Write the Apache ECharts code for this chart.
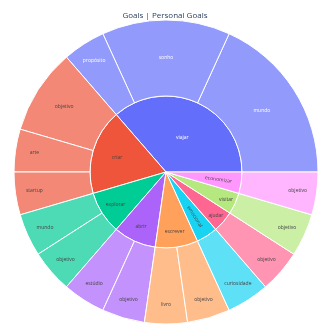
<!DOCTYPE html>
<html><head><meta charset="utf-8">
<script src="https://cdn.jsdelivr.net/npm/echarts@6/dist/echarts.min.js"></script>
<style>html,body{margin:0;padding:0;background:#fff}#c{width:330px;height:330px}</style>
</head><body><div id="c"></div>
<script>
const titleText = 'Goals | Personal Goals';
const parents = ['viajar','criar','explorar','abrir','escrever','emocional','ajudar','visitar','economizar'];
const parentColors = ['#636efa','#EF553B','#00cc96','#ab63fa','#FFA15A','#19d3f3','#FF6692','#B6E880','#FF97FF'];
const childNames = [
  ['mundo','sonho','propósito'],
  ['objetivo','arte','startup'],
  ['mundo','objetivo'],
  ['estúdio','objetivo'],
  ['livro','objetivo'],
  ['curiosidade'],
  ['objetivo'],
  ['objetivo'],
  ['objetivo']
];
const childValues = [
  [4,3,1],
  [2,1,1],
  [1,1],
  [1,1],
  [1,1],
  [1],
  [1],
  [1],
  [1]
];
const radialParents = ['emocional','economizar'];
const whiteText = ['viajar'];

function lighten(hex, a){
  const n = parseInt(hex.slice(1),16);
  const r=(n>>16)&255,g=(n>>8)&255,b=n&255;
  const f=c=>Math.round(a*c+(1-a)*255);
  return 'rgb('+f(r)+','+f(g)+','+f(b)+')';
}

// label placement styling (radius of label inside its ring)
const R_IN = 76, R_OUT = 152;
function innerTarget(units, radial){
  if (units >= 6) return 39;
  if (units >= 3) return 51;
  if (units >= 2) return 60;
  return radial ? 53 : 66;
}
function outerTarget(units){
  if (units >= 3) return 114;
  if (units >= 2) return 121;
  return 133;
}
function shiftStyle(midDeg, d, radial){
  if (radial) return {padding: d > 0 ? [0,0,0,2*d] : [0,-2*d,0,0]};
  const t = midDeg*Math.PI/180;
  const sx = d*Math.cos(t), sy = -d*Math.sin(t);
  const st = {padding:[0, sx<0?-2*sx:0, 0, sx>0?2*sx:0]};
  if (sy > 2) { st.verticalAlign = 'top'; st.lineHeight = 2*sy; }
  else if (sy < -2) { st.verticalAlign = 'bottom'; st.lineHeight = -2*sy; }
  return st;
}

const total = childValues.flat().reduce((a,b)=>a+b,0);
let acc = 0;
const data = parents.map((p,i)=>{
  const tc = whiteText.includes(p) ? '#fff' : '#444';
  const radial = radialParents.includes(p);
  const pUnits = childValues[i].reduce((a,b)=>a+b,0);
  const pMid = (acc + pUnits/2)/total*360;
  const children = childNames[i].map((c,j)=>{
    const u = childValues[i][j];
    const mid = (acc + u/2)/total*360;
    acc += u;
    return {
      name: c,
      value: u,
      itemStyle:{color: lighten(parentColors[i],0.7)},
      label:Object.assign({rotate:0, color: tc}, shiftStyle(mid, outerTarget(u) - (R_IN+R_OUT)/2, false))
    };
  });
  return {
    name: p,
    itemStyle:{color: parentColors[i]},
    label:Object.assign({rotate: radial ? 'radial' : 0, color: tc}, shiftStyle(pMid, innerTarget(pUnits, radial) - R_IN/2, radial)),
    children: children
  };
});

const chart = echarts.init(document.getElementById('c'), null, {renderer:'canvas'});
chart.setOption({
  animation:false,
  title:{text:titleText, left:'center', top:7, textStyle:{fontSize:8, fontWeight:'normal', color:'#2a3f5f', fontFamily:'"Open Sans", Arial, sans-serif'}},
  series:[{
    type:'sunburst',
    center:[166,172],
    radius:[0,152],
    startAngle:0,
    clockwise:false,
    sort:null,
    nodeClick:false,
    data:data,
    itemStyle:{borderColor:'#fff', borderWidth:1},
    label:{fontSize:5, fontFamily:'"Open Sans", Arial, sans-serif', color:'#444', minAngle:0},
    emphasis:{focus:'none'},
    levels:[
      {},
      {r0:0, r:R_IN},
      {r0:R_IN, r:R_OUT}
    ]
  }]
});
</script></body></html>
